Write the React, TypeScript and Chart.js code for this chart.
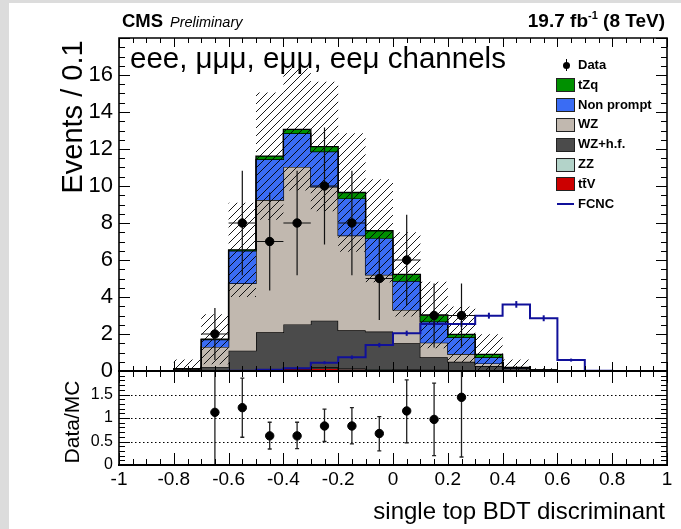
import React, { useEffect, useRef } from "react";
import { Chart, registerables } from "chart.js";

Chart.register(...registerables);

const FONT = '"Liberation Sans", Arial, Helvetica, sans-serif';

// ---- data ----
const binEdges = [-1, -0.9, -0.8, -0.7, -0.6, -0.5, -0.4, -0.3, -0.2, -0.1, 0, 0.1, 0.2, 0.3, 0.4, 0.5, 0.6, 0.7, 0.8, 0.9, 1];
const ttV = [0, 0, 0, 0, 0.02, 0.05, 0.12, 0.15, 0.1, 0.06, 0.05, 0.04, 0.03, 0.02, 0.01, 0, 0, 0, 0, 0];
const zz = [0, 0, 0.01, 0.02, 0.03, 0.04, 0.05, 0.05, 0.04, 0.04, 0.03, 0.03, 0.02, 0.02, 0.01, 0.01, 0, 0, 0, 0];
const wzHf = [0, 0, 0.04, 0.2, 1.05, 2.0, 2.35, 2.52, 2.06, 2.03, 1.42, 0.67, 0.45, 0.23, 0.08, 0.03, 0, 0, 0, 0];
const wz = [0, 0, 0.07, 1.08, 3.64, 7.15, 8.51, 7.24, 5.12, 3.07, 1.8, 0.79, 0.42, 0.14, 0.05, 0.01, 0, 0, 0, 0];
const nonPrompt = [0, 0, 0, 0.4, 1.76, 2.2, 1.82, 1.9, 2.01, 1.98, 1.56, 1.14, 0.9, 0.33, 0.02, 0, 0, 0, 0, 0];
const tzq = [0, 0, 0, 0.02, 0.05, 0.18, 0.21, 0.27, 0.32, 0.4, 0.36, 0.36, 0.16, 0.16, 0.02, 0, 0, 0, 0, 0];
const bkgUnc = [0, 0, 0.5, 1.35, 2.55, 3.44, 3.3, 3.5, 3.2, 2.78, 2.28, 1.8, 1.5, 1.08, 0.43, 0.1, 0, 0, 0, 0];
const fcnc = [0, 0, 0, 0, 0.02, 0.07, 0.15, 0.45, 0.74, 1.4, 2.04, 2.54, 2.54, 2.99, 3.6, 2.85, 0.59, 0.02, 0, 0];
const fcncUnc = [0, 0, 0, 0, 0.02, 0.04, 0.05, 0.08, 0.1, 0.12, 0.14, 0.15, 0.15, 0.16, 0.18, 0.16, 0.08, 0.02, 0, 0];

const dataX = [-0.65, -0.55, -0.45, -0.35, -0.25, -0.15, -0.05, 0.05, 0.15, 0.25];
const dataY = [2, 8, 7, 8, 10, 8, 5, 6, 3, 3];
const dataErr = [1.41, 2.83, 2.65, 2.83, 3.16, 2.83, 2.24, 2.45, 1.73, 1.73];

const ratioY = [1.12, 1.22, 0.62, 0.62, 0.83, 0.83, 0.67, 1.15, 0.97, 1.44];
const ratioLow = [0, 0.59, 0.34, 0.35, 0.5, 0.45, 0.3, 0.47, 0.2, 0.17];
const ratioHigh = [2.3, 1.85, 0.91, 0.91, 1.19, 1.22, 1.03, 1.81, 1.74, 2.3];

const xTicks = [-1, -0.8, -0.6, -0.4, -0.2, 0, 0.2, 0.4, 0.6, 0.8, 1];
const xTickLabels = ["-1", "-0.8", "-0.6", "-0.4", "-0.2", "0", "0.2", "0.4", "0.6", "0.8", "1"];
const yTicks = [0, 2, 4, 6, 8, 10, 12, 14, 16];
const yTickLabels = ["0", "2", "4", "6", "8", "10", "12", "14", "16"];
const rTicks = [0, 0.5, 1, 1.5];
const rTickLabels = ["0", "0.5", "1", "1.5"];

const stackNames = ["ttV", "ZZ", "WZ+h.f.", "WZ", "Non prompt", "tZq"];
const stackColors = ["#cc0000", "#b3d3c9", "#4b4b4b", "#c1b8af", "#3a6cf4", "#009000"];

const legendRows = [
  { label: "Data", kind: "data", color: "#000" },
  { label: "tZq", kind: "box", color: "#009000" },
  { label: "Non prompt", kind: "box", color: "#3a6cf4" },
  { label: "WZ", kind: "box", color: "#c1b8af" },
  { label: "WZ+h.f.", kind: "box", color: "#4b4b4b" },
  { label: "ZZ", kind: "box", color: "#b3d3c9" },
  { label: "tt\u0304V", kind: "box", color: "#cc0000" },
  { label: "FCNC", kind: "line", color: "#10109a" },
];

function stepPoints(vals: number[]) {
  const pts = vals.map((v, i) => ({ x: binEdges[i], y: v }));
  pts.push({ x: binEdges[binEdges.length - 1], y: vals[vals.length - 1] });
  return pts;
}

function makeHatch(ctx: CanvasRenderingContext2D) {
  const c = document.createElement("canvas");
  c.width = 8;
  c.height = 8;
  const g = c.getContext("2d")!;
  g.strokeStyle = "#000";
  g.lineWidth = 0.9;
  g.beginPath();
  g.moveTo(0, 8);
  g.lineTo(8, 0);
  g.moveTo(-1, 1);
  g.lineTo(1, -1);
  g.moveTo(7, 9);
  g.lineTo(9, 7);
  g.stroke();
  return ctx.createPattern(c, "repeat")!;
}

const decorPlugin = {
  id: "decor",
  beforeDatasetsDraw(chart: any) {
    const { ctx } = chart;
    const x = chart.scales.x;
    const yr = chart.scales.yr;
    ctx.save();
    ctx.strokeStyle = "#000";
    ctx.lineWidth = 1;
    ctx.setLineDash([1.5, 2.5]);
    for (const v of [0.5, 1, 1.5]) {
      const py = Math.round(yr.getPixelForValue(v)) + 0.5;
      ctx.beginPath();
      ctx.moveTo(x.left, py);
      ctx.lineTo(x.right, py);
      ctx.stroke();
    }
    ctx.restore();
  },
  beforeDatasetDraw(chart: any, args: any) {
    const ds = chart.data.datasets[args.index];
    const { ctx } = chart;
    const x = chart.scales.x;
    if (ds.label === "Data") {
      const y = chart.scales.y;
      ctx.save();
      ctx.strokeStyle = "#111";
      ctx.lineWidth = 1.2;
      dataX.forEach((cx, i) => {
        const px = x.getPixelForValue(cx);
        const py = y.getPixelForValue(dataY[i]);
        ctx.beginPath();
        ctx.moveTo(px, y.getPixelForValue(dataY[i] - dataErr[i]));
        ctx.lineTo(px, y.getPixelForValue(dataY[i] + dataErr[i]));
        ctx.moveTo(x.getPixelForValue(cx - 0.05), py);
        ctx.lineTo(x.getPixelForValue(cx + 0.05), py);
        ctx.stroke();
      });
      ctx.restore();
    }
    if (ds.label === "Data/MC") {
      const yr = chart.scales.yr;
      ctx.save();
      ctx.beginPath();
      ctx.rect(x.left, yr.top, x.right - x.left, yr.bottom - yr.top);
      ctx.clip();
      ctx.strokeStyle = "#222";
      ctx.lineWidth = 1.3;
      dataX.forEach((cx, i) => {
        const px = x.getPixelForValue(cx);
        const lo = yr.getPixelForValue(ratioLow[i]);
        const hi = yr.getPixelForValue(ratioHigh[i]);
        ctx.beginPath();
        ctx.moveTo(px, lo);
        ctx.lineTo(px, hi);
        ctx.moveTo(px - 2, lo);
        ctx.lineTo(px + 2, lo);
        ctx.moveTo(px - 2, hi);
        ctx.lineTo(px + 2, hi);
        ctx.stroke();
      });
      ctx.restore();
    }
  },
  afterDatasetDraw(chart: any, args: any) {
    const ds = chart.data.datasets[args.index];
    if (ds.label !== "FCNC") return;
    const { ctx } = chart;
    const x = chart.scales.x;
    const y = chart.scales.y;
    ctx.save();
    ctx.strokeStyle = "#10109a";
    ctx.lineWidth = 2;
    fcnc.forEach((v, i) => {
      if (fcncUnc[i] <= 0) return;
      const px = x.getPixelForValue((binEdges[i] + binEdges[i + 1]) / 2);
      ctx.beginPath();
      ctx.moveTo(px, y.getPixelForValue(v - fcncUnc[i]));
      ctx.lineTo(px, y.getPixelForValue(v + fcncUnc[i]));
      ctx.stroke();
    });
    ctx.restore();
  },
  afterDatasetsDraw(chart: any) {
    const { ctx } = chart;
    const x = chart.scales.x;
    const y = chart.scales.y;
    const yr = chart.scales.yr;
    const L = x.left;
    const R = x.right;
    ctx.save();
    ctx.strokeStyle = "#000";
    ctx.lineWidth = 1;
    ctx.beginPath();
    const panels = [
      { top: y.top, bottom: y.bottom, maj: 9, min: 5 },
      { top: yr.top, bottom: yr.bottom, maj: 12, min: 6 },
    ];
    for (const p of panels) {
      for (let k = 0; k <= 40; k++) {
        const v = -1 + k * 0.05;
        const px = Math.round(x.getPixelForValue(v)) + 0.5;
        const len = k % 4 === 0 ? p.maj : p.min;
        ctx.moveTo(px, p.bottom);
        ctx.lineTo(px, p.bottom - len);
        ctx.moveTo(px, p.top);
        ctx.lineTo(px, p.top + len);
      }
    }
    for (let k = 0; k <= 36; k++) {
      const v = k * 0.5;
      const py = Math.round(y.getPixelForValue(v)) + 0.5;
      const len = k % 4 === 0 ? 11 : 6;
      ctx.moveTo(L, py);
      ctx.lineTo(L + len, py);
      ctx.moveTo(R, py);
      ctx.lineTo(R - len, py);
    }
    for (let k = 0; k <= 20; k++) {
      const v = k * 0.1;
      const py = Math.round(yr.getPixelForValue(v)) + 0.5;
      const len = k % 5 === 0 ? 11 : 6;
      ctx.moveTo(L, py);
      ctx.lineTo(L + len, py);
      ctx.moveTo(R, py);
      ctx.lineTo(R - len, py);
    }
    ctx.stroke();
    ctx.lineWidth = 1.6;
    ctx.beginPath();
    ctx.moveTo(L, yr.bottom);
    ctx.lineTo(L, y.top);
    ctx.lineTo(R, y.top);
    ctx.lineTo(R, yr.bottom);
    ctx.stroke();
    ctx.lineWidth = 2.2;
    ctx.beginPath();
    ctx.moveTo(L - 1, y.bottom);
    ctx.lineTo(R + 1, y.bottom);
    ctx.moveTo(L - 1, yr.bottom);
    ctx.lineTo(R + 1, yr.bottom);
    ctx.stroke();
    ctx.restore();
  },
};

export default function App() {
  const ref = useRef<HTMLCanvasElement>(null);

  useEffect(() => {
    const canvas = ref.current!;
    const ctx = canvas.getContext("2d")!;
    const hatch = makeHatch(ctx);

    const comps = [ttV, zz, wzHf, wz, nonPrompt, tzq];
    let run = new Array(binEdges.length - 1).fill(0);
    const cumulative = comps.map((c) => {
      run = run.map((r: number, i: number) => r + c[i]);
      return run;
    });
    const total = cumulative[cumulative.length - 1];
    const bandLow = total.map((t: number, i: number) => Math.max(0, t - bkgUnc[i]));
    const bandHigh = total.map((t: number, i: number) => (bkgUnc[i] > 0 ? t + bkgUnc[i] : t));

    const stackSets = cumulative.map((cum: number[], i: number) => ({
      label: stackNames[i],
      data: stepPoints(cum),
      yAxisID: "y",
      stepped: "before",
      borderColor: "#000",
      borderWidth: 1.3,
      backgroundColor: stackColors[i],
      fill: i === 0 ? "origin" : "-1",
      pointRadius: 0,
      order: 30 - i,
    }));

    const chart = new Chart(canvas, {
      type: "line",
      data: {
        datasets: [
          ...stackSets,
          {
            label: "band low",
            data: stepPoints(bandLow),
            yAxisID: "y",
            stepped: "before",
            borderColor: "rgba(0,0,0,0)",
            borderWidth: 0,
            fill: false,
            pointRadius: 0,
            order: 10,
          },
          {
            label: "band high",
            data: stepPoints(bandHigh),
            yAxisID: "y",
            stepped: "before",
            borderColor: "rgba(0,0,0,0)",
            borderWidth: 0,
            backgroundColor: hatch,
            fill: "-1",
            pointRadius: 0,
            order: 9,
          },
          {
            label: "FCNC",
            data: stepPoints(fcnc),
            yAxisID: "y",
            stepped: "before",
            borderColor: "#10109a",
            borderWidth: 2,
            fill: false,
            pointRadius: 0,
            order: 5,
          },
          {
            label: "Data",
            data: dataX.map((v, i) => ({ x: v, y: dataY[i] })),
            yAxisID: "y",
            showLine: false,
            pointRadius: 4.2,
            pointBackgroundColor: "#000",
            pointBorderColor: "#000",
            order: 1,
          },
          {
            label: "Data/MC",
            data: dataX.map((v, i) => ({ x: v, y: ratioY[i] })),
            yAxisID: "yr",
            showLine: false,
            pointRadius: 4.2,
            pointBackgroundColor: "#000",
            pointBorderColor: "#000",
            order: 1,
          },
        ] as any,
      },
      options: {
        animation: false,
        responsive: false,
        events: [],
        layout: { padding: { top: 38, right: 14, left: 0, bottom: 0 } },
        plugins: { legend: { display: false }, tooltip: { enabled: false }, title: { display: false } },
        scales: {
          x: {
            type: "linear",
            min: -1,
            max: 1,
            grid: { display: false, drawTicks: false },
            border: { display: false },
            afterBuildTicks: (s: any) => {
              s.ticks = xTicks.map((v) => ({ value: v }));
            },
            afterFit: (s: any) => {
              s.height = 64;
            },
            ticks: {
              autoSkip: false,
              maxRotation: 0,
              padding: 3,
              color: "#000",
              font: { family: FONT, size: 19 },
              callback: (_v: any, i: number) => xTickLabels[i],
            },
          },
          yr: {
            type: "linear",
            position: "left",
            stack: "panels",
            stackWeight: 94,
            min: 0,
            max: 2,
            grid: { display: false, drawTicks: false },
            border: { display: false },
            afterBuildTicks: (s: any) => {
              s.ticks = rTicks.map((v) => ({ value: v }));
            },
            afterFit: (s: any) => {
              s.width = 119;
            },
            ticks: {
              autoSkip: false,
              padding: 6,
              color: "#000",
              font: { family: FONT, size: 16 },
              callback: (_v: any, i: number) => rTickLabels[i],
            },
          },
          y: {
            type: "linear",
            position: "left",
            stack: "panels",
            stackWeight: 333,
            min: 0,
            max: 18,
            grid: { display: false, drawTicks: false },
            border: { display: false },
            afterBuildTicks: (s: any) => {
              s.ticks = yTicks.map((v) => ({ value: v }));
            },
            afterFit: (s: any) => {
              s.width = 119;
            },
            ticks: {
              autoSkip: false,
              padding: 6,
              color: "#000",
              font: { family: FONT, size: 22 },
              callback: (_v: any, i: number) => yTickLabels[i],
            },
          },
        },
      } as any,
      plugins: [decorPlugin],
    });
    return () => chart.destroy();
  }, []);

  const text = (style: React.CSSProperties, children: React.ReactNode) => (
    <div style={{ position: "absolute", whiteSpace: "nowrap", lineHeight: 1, color: "#000", ...style }}>{children}</div>
  );

  return (
    <div style={{ position: "absolute", left: 0, top: 0, width: 681, height: 529, background: "#dcdcdc", overflow: "hidden", fontFamily: FONT }}>
      <div style={{ position: "absolute", left: 9, top: 3, right: 0, bottom: 0, background: "#fff" }} />
      <canvas ref={ref} width={681} height={529} style={{ position: "absolute", left: 0, top: 0 }} />
      {text({ left: 122, top: 12, fontSize: 18.5, fontWeight: "bold" }, "CMS")}
      {text({ left: 170, top: 15, fontSize: 14.5, fontStyle: "italic" }, "Preliminary")}
      {text({ right: 16, top: 11, fontSize: 19, fontWeight: "bold" }, (
        <span>19.7 fb<sup style={{ fontSize: 11, verticalAlign: 8, lineHeight: 0 }}>-1</sup> (8 TeV)</span>
      ))}
      {text({ left: 130, top: 43, fontSize: 29.5 }, "eee, \u03bc\u03bc\u03bc, e\u03bc\u03bc, ee\u03bc channels")}
      {text({ left: 72, top: 117, fontSize: 29, transform: "translate(-50%, -50%) rotate(-90deg)" }, "Events / 0.1")}
      {text({ left: 71, top: 422, fontSize: 21, transform: "translate(-50%, -50%) rotate(-90deg)" }, "Data/MC")}
      {text({ right: 16, top: 499, fontSize: 24 }, "single top BDT discriminant")}
      {legendRows.map((r, i) => {
        const cy = 65 + i * 19.8;
        return (
          <React.Fragment key={r.label}>
            {r.kind === "box" && (
              <div style={{ position: "absolute", left: 556, top: cy - 6.5, width: 17, height: 12, background: r.color, border: "1px solid #222" }} />
            )}
            {r.kind === "line" && (
              <div style={{ position: "absolute", left: 557, top: cy - 1, width: 17, height: 2, background: r.color }} />
            )}
            {r.kind === "data" && (
              <>
                <div style={{ position: "absolute", left: 565.5, top: cy - 6, width: 1.2, height: 12, background: "#000" }} />
                <div style={{ position: "absolute", left: 562.5, top: cy - 3.5, width: 7, height: 7, borderRadius: "50%", background: "#000" }} />
              </>
            )}
            {text({ left: 578, top: cy - 7, fontSize: 13, fontWeight: "bold" }, r.label)}
          </React.Fragment>
        );
      })}
    </div>
  );
}
